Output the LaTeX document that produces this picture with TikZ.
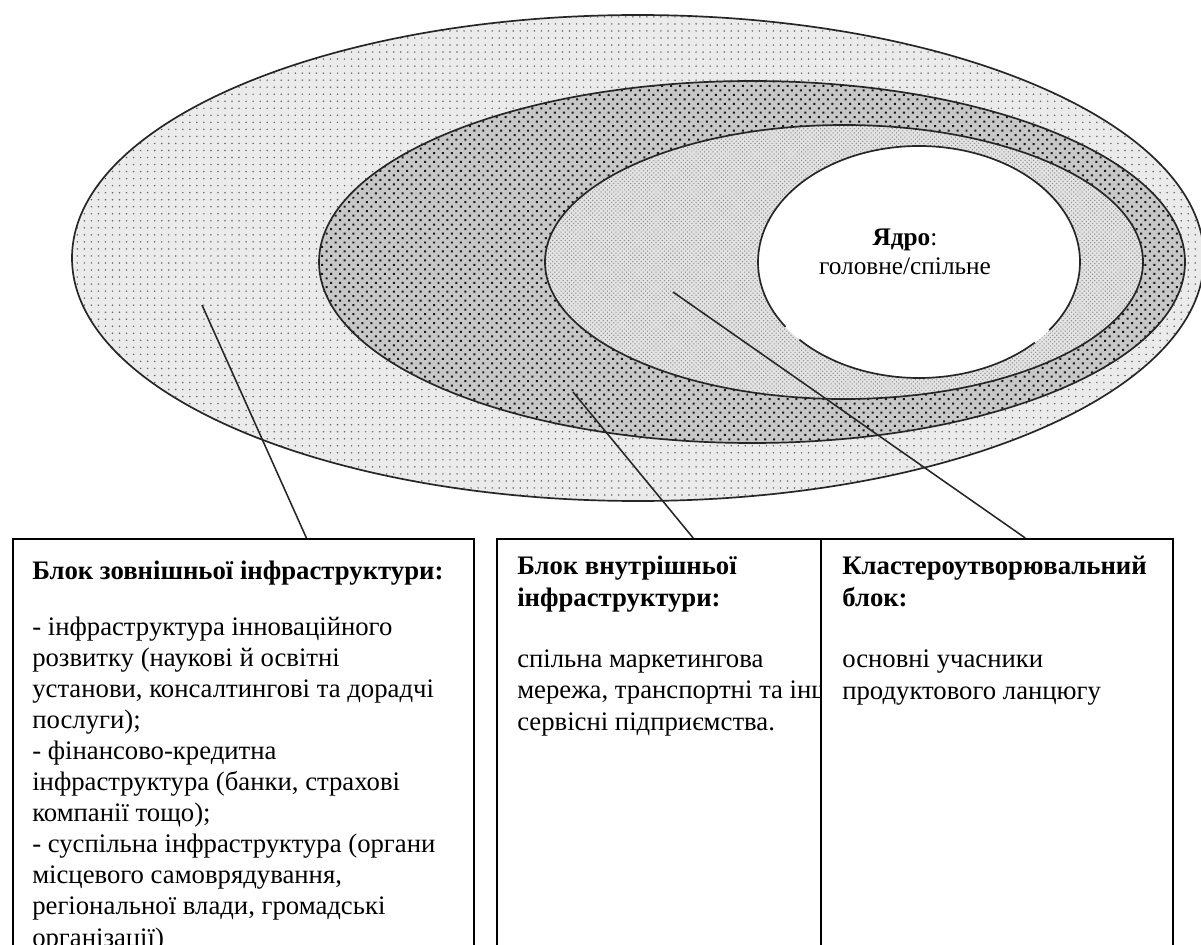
\documentclass[tikz,border=0pt]{standalone}
\usepackage{fontspec}
\setmainfont{Liberation Serif}
\usetikzlibrary{patterns,patterns.meta,calc}

\tikzset{
  ring/.style={draw=black!85, line width=1.2pt},
  blockbox/.style={rectangle, draw=black, line width=1.3pt, anchor=north west, minimum height=10.55cm, inner sep=0pt},
  blocktext/.style={anchor=base west, align=left, inner sep=0pt, font=\fontsize{19}{22.1}\selectfont},
  callout/.style={draw=black!85, line width=1.1pt},
}

\begin{document}
\begin{tikzpicture}[x=0.025cm, y=-0.025cm]
	\useasboundingbox (0,0) rectangle (1201,945);
	\clip (0,0) rectangle (1201,945);

	% rings, outside in
	\path[ring, preaction={fill=black!8}, pattern={Dots[distance=5pt, radius=0.6pt]}, pattern color=black!60] (638,258) ellipse [x radius=566, y radius=243];
	\path[ring, preaction={fill=black!22}, pattern={Dots[distance=4.5pt, radius=1pt, angle=45]}, pattern color=black!90] (752,262) ellipse [x radius=433, y radius=181];
	\path[ring, preaction={fill=black!11}, pattern=crosshatch dots, pattern color=black!45] (844,262) ellipse [x radius=299, y radius=137];

	% core
	\fill[white] (919,262) ellipse [x radius=161, y radius=116];
	\draw[ring] (919,262) ++(44:161 and 116) arc [start angle=44, end angle=138, x radius=161, y radius=116];
	\draw[ring] (919,262) ++(146:161 and 116) arc [start angle=146, end angle=396, x radius=161, y radius=116];
	\node[align=center, inner sep=0pt, font=\fontsize{18}{20.5}\selectfont] (core) at (905,252) {\textbf{Ядро}:\\головне/спільне};

	% blocks
	\node[blockbox, minimum width=11.525cm] (extblock) at (12,538) {};
	\node[blockbox, minimum width=8.1cm] (intblock) at (496,538) {};
	\node[blockbox, minimum width=8.8cm] (clblock) at (820,538) {};

	% multi-line texts sit on the baseline of their last line
	\node[blocktext] (exthead) at (32,579) {\textbf{Блок зовнішньої інфраструктури:}};
	\node[blocktext] (exttext) at (32,946) {- інфраструктура інноваційного\\
		розвитку (наукові й освітні\\
		установи, консалтингові та дорадчі\\
		послуги);\\
		- фінансово-кредитна\\
		інфраструктура (банки, страхові\\
		компанії тощо);\\
		- суспільна інфраструктура (органи\\
		місцевого самоврядування,\\
		регіональної влади, громадські\\
		організації)};

	\begin{scope}
		\clip (496,538) rectangle (820,945);
		\node[blocktext] (inthead) at (517,606) {\textbf{Блок внутрішньої}\\\textbf{інфраструктури:}};
		\node[blocktext] (inttext) at (517,730) {спільна маркетингова\\мережа, транспортні та інші\\сервісні підприємства.};
	\end{scope}

	\node[blocktext] (clhead) at (842,606) {\textbf{Кластероутворювальний}\\\textbf{блок:}};
	\node[blocktext] (cltext) at (842,699) {основні учасники\\продуктового ланцюгу};

	% callouts
	\coordinate (extpt) at (202,305);
	\coordinate (intpt) at (573,392);
	\coordinate (clpt) at (673,292);
	\draw[callout] (extpt) -- ($(extblock.north west)!0.636!(extblock.north east)$);
	\draw[callout] (intpt) -- ($(intblock.north west)!0.605!(intblock.north east)$);
	\draw[callout] (clpt) -- ($(clblock.north west)!0.58!(clblock.north east)$);
\end{tikzpicture}
\end{document}
